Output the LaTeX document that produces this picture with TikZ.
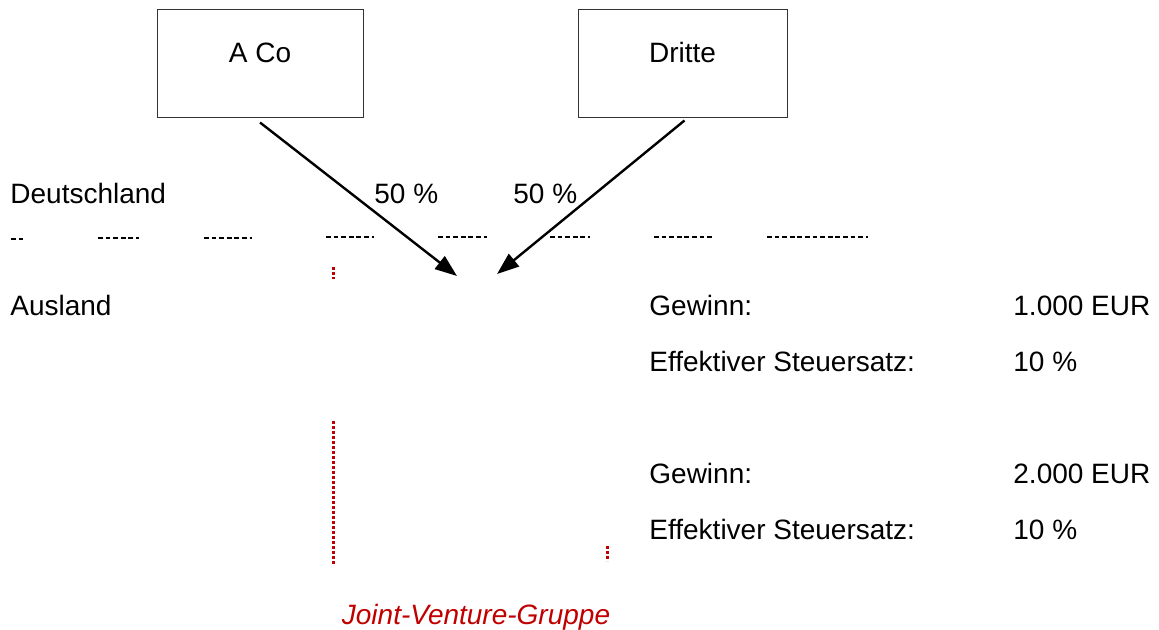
\documentclass[tikz,border=0pt]{standalone}
\usepackage{fontspec}
\setmainfont{Liberation Sans}
\usetikzlibrary{
  positioning,
  arrows.meta,
  calc
}
\definecolor{jvred}{RGB}{192,0,0}
\tikzset{
  firm/.style={
    draw=black!80,
    line width=0.5pt,
    minimum width=103pt,
    minimum height=54pt,
    text height=10pt,
    text depth=11pt,
  },
  share/.style={
    line width=1.2pt,
    -{Triangle[length=11pt,width=8pt]},
  },
  txt/.style={
    anchor=base west,
    inner sep=0pt,
  },
  border/.style={
    line width=1pt,
    dash pattern=on 2.4pt off 1.4pt,
  },
  jvline/.style={
    jvred,
    line width=1.5pt,
    dash pattern=on 1.4pt off 1.1pt,
  },
}

\begin{document}
\begin{tikzpicture}[x=0.5pt,y=-0.5pt,
    every node/.append style={font=\fontsize{14pt}{17pt}\selectfont}]
		\useasboundingbox (0,0) rectangle (1159,630);

		% shareholders
		\node[firm] (aco) at (260,64) {A Co};
		\node[firm,minimum width=104.5pt] (dritte) at (682.5,64) {Dritte};

		% joint venture
		\coordinate (tipA) at (457,276);
		\coordinate (tipB) at (497,274);
		\draw[share] ([yshift=-2pt]aco.south) -- (tipA);
		\draw[share] ([yshift=-1pt,xshift=1pt]dritte.south) -- (tipB);
		\node[txt] (shA) at (374,204) {50 \%};
		\node[txt] (shB) at (513,204) {50 \%};

		% border
		\node[txt] (deu) at (10,204) {Deutschland};
		\node[txt] (aus) at (10,315) {Ausland};
		\foreach \xa/\xb/\yy in {11/26/239, 98/139/238, 204/252/238, 326/374/237,
		  438/487/237, 550/590/237, 654/712/237, 767/868/237}
			\draw[border] (\xa,\yy) -- (\xb,\yy);

		% figures
		\node[txt] (gew1) at (649,315) {Gewinn:};
		\node[txt] (satz1) at (649,371) {Effektiver Steuersatz:};
		\node[txt] (val1) at (1013,315) {1.000 EUR};
		\node[txt] (rate1) at (1013,371) {10 \%};
		\node[txt] (gew2) at (649,483) {Gewinn:};
		\node[txt] (satz2) at (649,539) {Effektiver Steuersatz:};
		\node[txt] (val2) at (1013,483) {2.000 EUR};
		\node[txt] (rate2) at (1013,539) {10 \%};

		% group
		\draw[jvline] (333,267) -- (333,279);
		\draw[jvline] (333,421) -- (333,565);
		\draw[jvline] (607,546) -- (607,561);
		\node[anchor=base,inner sep=0pt,text=jvred,font=\fontsize{14pt}{17pt}\selectfont\itshape]
		  (jv) at (476,624) {Joint-Venture-Gruppe};

	\end{tikzpicture}
\end{document}
